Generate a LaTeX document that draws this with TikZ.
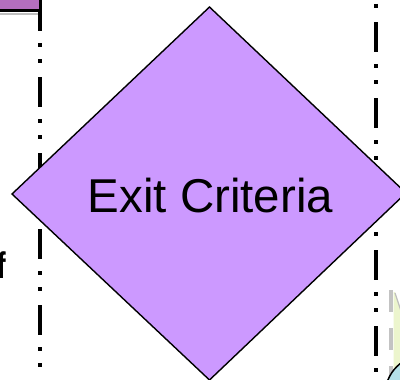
\documentclass[tikz,border=0pt]{standalone}
\usepackage{fontspec}
\setmainfont{Liberation Sans}
\definecolor{dpurple}{RGB}{204,153,255}
\definecolor{boxpurple}{RGB}{180,110,190}
\definecolor{shadowgrey}{RGB}{190,190,190}
\definecolor{lgreen}{RGB}{236,245,205}
\definecolor{lblue}{RGB}{180,225,232}
\definecolor{bargrey}{RGB}{195,195,195}
\begin{document}
\begin{tikzpicture}[x=1pt,y=-1pt,
  lane/.style={line width=4pt, line cap=butt,
    dash pattern=on 30pt off 12pt on 4pt off 12pt on 4pt off 14pt},
  greybar/.style={bargrey, line width=4pt, dash pattern=on 22pt off 16pt},
  decision/.style={fill=dpurple, draw=black, line width=1.4pt, line join=miter}]
\useasboundingbox (0,0) rectangle (400,380);
\clip (0,0) rectangle (400,380);
% swimlane separators
\coordinate (l1) at (40,-75);
\coordinate (l2) at (40,420);
\coordinate (r1) at (376,-54);
\coordinate (r2) at (376,420);
\draw[lane] (l1) -- (l2);
\draw[lane] (r1) -- (r2);
% top-left box
\fill[shadowgrey] (-10,12.5) rectangle (38,15);
\draw[fill=boxpurple, line width=3pt] (-10,-10) rectangle (40,10.5);
% partial text on the left
\node[font=\fontsize{37}{40}\selectfont\bfseries, anchor=base east, inner sep=0pt] (ftext) at (6,278) {\scalebox{0.7}[1]{f}};
% decision diamond
\coordinate (dT) at (209.5,7);
\coordinate (dL) at (12,194);
\coordinate (dB) at (209.5,380);
\coordinate (dR) at (406,193);
\draw[decision] (dT) -- (dL) -- (dB) -- (dR) -- cycle;
\node[font=\fontsize{47.5}{50}\selectfont, anchor=base, inner sep=0pt] (exit) at (210.5,212.5) {Exit Criteria};
% bottom-right partial shapes
\coordinate (g1) at (391,290);
\coordinate (g2) at (391,420);
\draw[greybar] (g1) -- (g2);
\fill[lgreen] (393.5,292) -- (395,292) -- (401,309) -- (401,400) -- (393.5,400) -- cycle;
\draw[shadowgrey, line width=1.2pt] (395,293) -- (401,311);
\draw[fill=lblue, line width=1.5pt] (425,395) circle (40);
\end{tikzpicture}
\end{document}
